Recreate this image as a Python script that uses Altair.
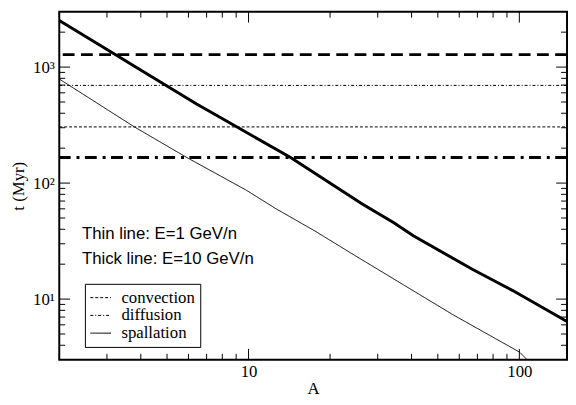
import altair as alt
import pandas as pd

# ---- data ----
A_THIN = [2, 3.78, 5.92, 9.8, 12.6, 17.6, 24.6, 56.9, 100, 107]
T_THIN = [789, 306, 166, 87, 60.3, 38.6, 23.9, 7.33, 3.5, 3.0]
A_THICK = [2, 3.23, 3.83, 6.43, 9, 14.3, 26.3, 34.4, 40.6, 67.3, 94.2, 150]
T_THICK = [2520, 1280, 1000, 480, 307, 166, 66, 45.5, 35.1, 18.0, 11.9, 6.4]

THIN_H_PROCESS = ["convection", "diffusion"]
THIN_H_T = [305, 695]
THICK_CONV_T = [1280]
THICK_DIFF_T = [166]

PROCESSES = ["convection", "diffusion", "spallation"]
X_DOMAIN = [2, 150]
Y_DOMAIN = [3, 3000]
X_MAJOR = [10, 100]
X_MINOR = [2, 3, 4, 5, 6, 7, 8, 9, 20, 30, 40, 50, 60, 70, 80, 90]
Y_MAJOR = [10, 100, 1000]
Y_MINOR = [4, 5, 6, 7, 8, 9, 20, 30, 40, 50, 60, 70, 80, 90,
           200, 300, 400, 500, 600, 700, 800, 900, 2000]
NOTES = ["Thin line: E=1 GeV/n", "Thick line: E=10 GeV/n"]

W, H = 515, 353
MAJOR_LEN, MINOR_LEN = 11, 6
SERIF = "Liberation Serif"
SANS = "Liberation Sans"

thin_df = pd.DataFrame({"A": A_THIN, "t": T_THIN, "process": "spallation"})
thick_df = pd.DataFrame({"A": A_THICK, "t": T_THICK})
hthin_rows = []
for p, v in zip(THIN_H_PROCESS, THIN_H_T):
    for xv in X_DOMAIN:
        hthin_rows.append({"A": xv, "t": v, "process": p})
hthin_df = pd.DataFrame(hthin_rows)

xs = alt.Scale(type="log", domain=X_DOMAIN, nice=False)
ys = alt.Scale(type="log", domain=Y_DOMAIN, nice=False)
dash_scale = alt.Scale(domain=PROCESSES, range=[[3, 2], [3, 2, 1, 2], [1, 0]])

legend = alt.Legend(title=None, orient="none", legendX=26, legendY=276,
                    symbolType="stroke", symbolSize=441, symbolStrokeWidth=1,
                    symbolStrokeColor="black", labelFont=SERIF, labelFontSize=17,
                    labelColor="black", labelOffset=10, padding=5, clipHeight=18,
                    rowPadding=0, fillColor="white", strokeColor="black",
                    cornerRadius=0, labelLimit=300)


# ---- inward frame ticks on all four sides ----
def xticks(values, length):
    d = pd.DataFrame({"A": values})
    bottom = alt.Chart(d).mark_rule(color="black", strokeWidth=1).encode(
        x=alt.X("A:Q", scale=xs, axis=None),
        y=alt.value(H), y2=alt.value(H - length))
    top = alt.Chart(d).mark_rule(color="black", strokeWidth=1).encode(
        x=alt.X("A:Q", scale=xs, axis=None),
        y=alt.value(0), y2=alt.value(length))
    return [bottom, top]


def yticks(values, length):
    d = pd.DataFrame({"t": values})
    left = alt.Chart(d).mark_rule(color="black", strokeWidth=1).encode(
        y=alt.Y("t:Q", scale=ys, axis=None),
        x=alt.value(0), x2=alt.value(length))
    right = alt.Chart(d).mark_rule(color="black", strokeWidth=1).encode(
        y=alt.Y("t:Q", scale=ys, axis=None),
        x=alt.value(W), x2=alt.value(W - length))
    return [left, right]


tick_layers = (xticks(X_MAJOR, MAJOR_LEN) + xticks(X_MINOR, MINOR_LEN)
               + yticks(Y_MAJOR, MAJOR_LEN) + yticks(Y_MINOR, MINOR_LEN))

# thick spallation: carries the labelled axes
thick = alt.Chart(thick_df).mark_line(color="black", strokeWidth=3).encode(
    x=alt.X("A:Q", scale=xs, axis=alt.Axis(
        orient="bottom", values=X_MAJOR, ticks=False, tickSize=0, domain=False,
        grid=False, labelFont=SERIF, labelFontSize=17, labelColor="black",
        labelPadding=4, labelExpr="'' + datum.value", labelFlush=False,
        title="A", titleFont=SERIF, titleFontSize=17, titleFontWeight="normal",
        titleColor="black", titlePadding=1)),
    y=alt.Y("t:Q", scale=ys, axis=alt.Axis(
        orient="left", values=Y_MAJOR, ticks=False, tickSize=0, domain=False,
        grid=False, labelFont=SERIF, labelFontSize=17, labelColor="black",
        labelPadding=5, labelFlush=False,
        labelExpr="datum.value == 10 ? '10¹' : datum.value == 100 ? '10²' : '10³'",
        title="t (Myr)", titleFont=SERIF, titleFontSize=17, titleFontWeight="normal",
        titleColor="black", titlePadding=5)),
)

thin = alt.Chart(thin_df).mark_line(clip=True, color="black", strokeWidth=1).encode(
    x=alt.X("A:Q", scale=xs, axis=None),
    y=alt.Y("t:Q", scale=ys, axis=None),
    strokeDash=alt.StrokeDash("process:N", scale=dash_scale, legend=legend),
)

hthin = alt.Chart(hthin_df).mark_line(color="black", strokeWidth=1).encode(
    x=alt.X("A:Q", scale=xs, axis=None),
    y=alt.Y("t:Q", scale=ys, axis=None),
    strokeDash=alt.StrokeDash("process:N", scale=dash_scale, legend=legend),
)

thick_conv = alt.Chart(pd.DataFrame({"t": THICK_CONV_T})).mark_rule(
    color="black", strokeWidth=3, strokeDash=[12, 6.5]).encode(
    y=alt.Y("t:Q", scale=ys, axis=None))

thick_diff = alt.Chart(pd.DataFrame({"t": THICK_DIFF_T})).mark_rule(
    color="black", strokeWidth=3, strokeDash=[12, 5.5, 3, 6]).encode(
    y=alt.Y("t:Q", scale=ys, axis=None))

note1 = alt.Chart(pd.DataFrame({"txt": [NOTES[0]]})).mark_text(
    align="left", baseline="alphabetic", font=SANS, fontSize=17, color="black").encode(
    text="txt:N", x=alt.value(23), y=alt.value(231))
note2 = alt.Chart(pd.DataFrame({"txt": [NOTES[1]]})).mark_text(
    align="left", baseline="alphabetic", font=SANS, fontSize=17, color="black").encode(
    text="txt:N", x=alt.value(23), y=alt.value(256))

chart = alt.layer(thick, *tick_layers, thick_conv, thick_diff, hthin, thin,
                  note1, note2).resolve_axis(
    x="independent", y="independent"
).properties(
    width=W, height=H,
    autosize=alt.AutoSizeParams(type="none"),
    padding={"left": 52, "top": 1, "right": 1, "bottom": 36},
    background="white",
).configure_view(stroke="black", strokeWidth=2)

chart.save("out.html", embed_options={"renderer": "svg", "actions": False})
